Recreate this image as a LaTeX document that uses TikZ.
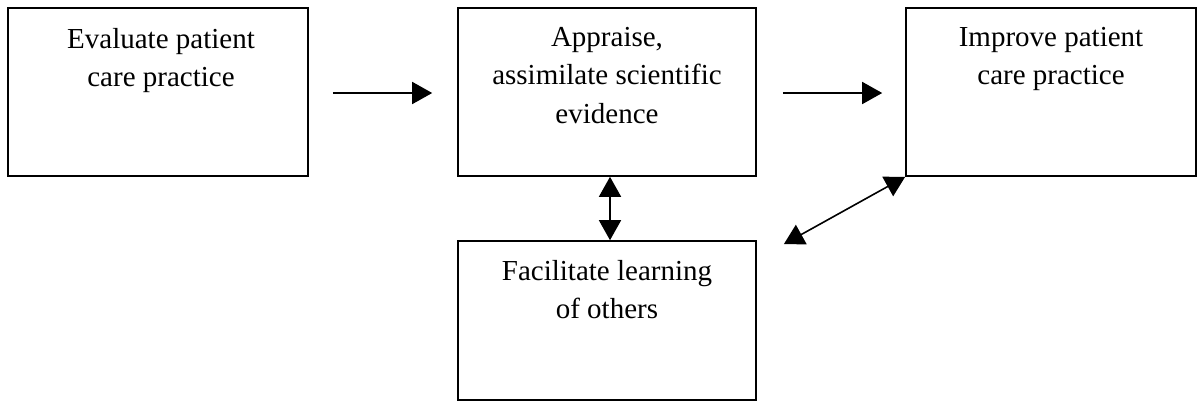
\documentclass[tikz,border=0pt]{standalone}
\usepackage{fontspec}
\setmainfont{Liberation Serif}
\usetikzlibrary{arrows.meta}
\begin{document}
\begin{tikzpicture}[x=1pt,y=-1pt,
  box/.style={draw, line width=1.6pt, inner sep=0pt, minimum width=#1},
  lbl/.style={anchor=north, inner sep=0pt, align=center,
    font=\fontsize{29pt}{38.5pt}\selectfont},
  arr/.style={line width=1.6pt, -{Triangle[length=20pt,width=22pt]}},
  darr/.style={line width=1.6pt, {Triangle[length=20pt,width=22pt]}-{Triangle[length=20pt,width=22pt]}}]
\useasboundingbox (0,0) rectangle (1204,408);
\node[box=300pt, minimum height=168pt] (b1) at (158,92) {};
\node[box=298pt, minimum height=168pt] (b2) at (607,92) {};
\node[box=290pt, minimum height=168pt] (b3) at (1051,92) {};
\node[box=298pt, minimum height=159pt] (b4) at (607,320.5) {};
\node[lbl] (t1) at (161,28) {Evaluate patient\\care practice};
\node[lbl] (t2) at (607,27) {Appraise,\\assimilate scientific\\evidence};
\node[lbl] (t3) at (1051,27) {Improve patient\\care practice};
\node[lbl] (t4) at (607,260) {Facilitate learning\\of others};
\coordinate (a1s) at ([xshift=24pt,yshift=-1pt]b1.east);
\coordinate (a1e) at ([xshift=-25pt,yshift=-1pt]b2.west);
\coordinate (a2s) at ([xshift=26pt,yshift=-1pt]b2.east);
\coordinate (a2e) at ([xshift=-23pt,yshift=-1pt]b3.west);
\coordinate (d) at ([xshift=27pt,yshift=-4pt]b4.north east);
\draw[arr] (a1s) -- (a1e);
\draw[arr] (a2s) -- (a2e);
\draw[darr] ([xshift=3pt]b2.south) -- ([xshift=3pt]b4.north);
\draw[darr] (d) -- (b3.south west);
\end{tikzpicture}
\end{document}
